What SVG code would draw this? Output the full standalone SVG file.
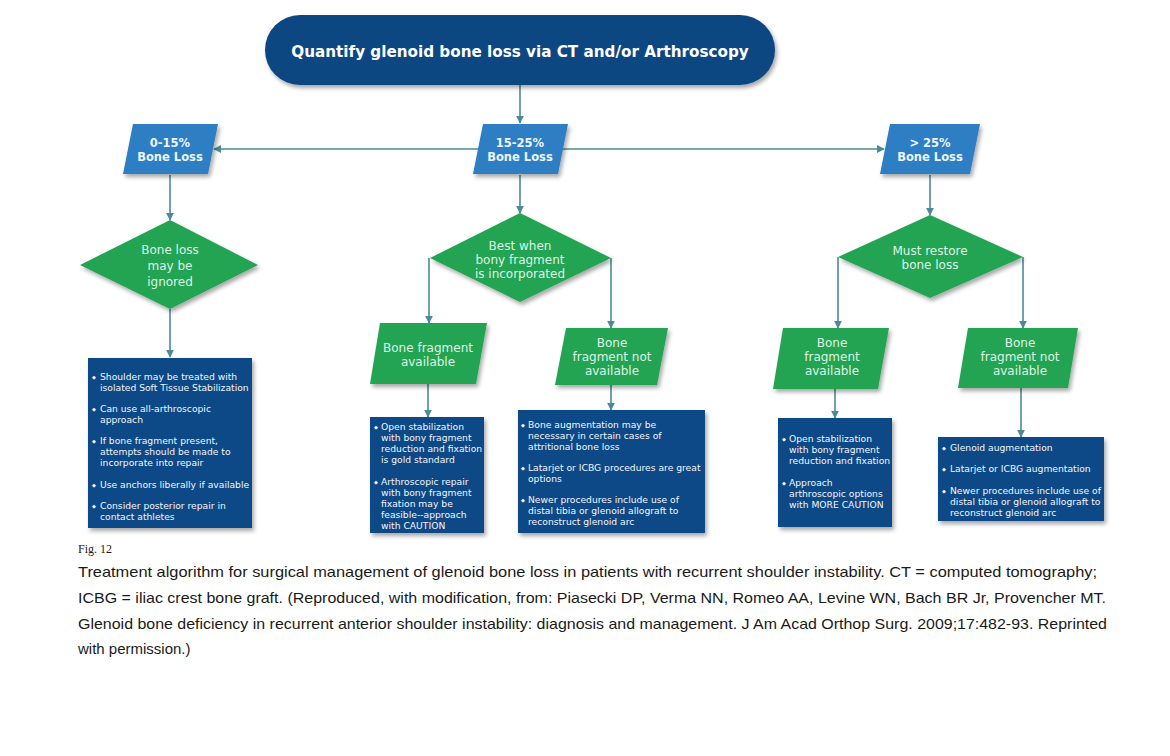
<svg xmlns="http://www.w3.org/2000/svg" width="1170" height="756" viewBox="0 0 1170 756">
<defs>
<filter id="sh" x="-10%" y="-10%" width="130%" height="140%">
<feDropShadow dx="2" dy="3" stdDeviation="2" flood-color="#000" flood-opacity="0.35"/>
</filter>
<marker id="ah" viewBox="0 0 10 10" refX="9" refY="5" markerWidth="8" markerHeight="8" markerUnits="userSpaceOnUse" orient="auto-start-reverse">
<path d="M0,0 L10,5 L0,10 Z" fill="#4d8a97"/>
</marker>
<style>
.con{fill:none;stroke:#4d8a97;stroke-width:1.6}
.top{fill:#0c4681}
.bp{fill:#2d7ec3}
.gr{fill:#22a452}
.bx{fill:#0f4987}
.tt{font-family:"DejaVu Sans",Verdana,sans-serif;font-weight:bold;fill:#fff;text-anchor:middle}
.pt{font-family:"DejaVu Sans",Verdana,sans-serif;font-weight:bold;font-size:11.5px;fill:#eef5fb;text-anchor:middle}
.dt{font-family:"DejaVu Sans",Verdana,sans-serif;font-size:12px;fill:#dff5e6;text-anchor:middle}
.bt{font-family:"DejaVu Sans",Verdana,sans-serif;font-size:9.2px;fill:#f2f5fa}
.bu{font-family:"DejaVu Sans",sans-serif;font-size:5px;fill:#f2f5fa}
.cap{font-family:"Liberation Sans",Arial,sans-serif;font-size:15px;fill:#1a1a1a}
.fig{font-family:"Liberation Serif","Times New Roman",serif;font-size:12px;fill:#1a1a1a}
</style>
</defs>
<rect width="1170" height="756" fill="#fff"/>

<g id="connectors">
<path class="con" d="M520,85 V123" marker-end="url(#ah)"/>
<path class="con" d="M480,149 H214" marker-end="url(#ah)"/>
<path class="con" d="M562,149 H884" marker-end="url(#ah)"/>
<path class="con" d="M170,175 V220" marker-end="url(#ah)"/>
<path class="con" d="M170,309 V357" marker-end="url(#ah)"/>
<path class="con" d="M520,175 V213" marker-end="url(#ah)"/>
<path class="con" d="M429,258 V323" marker-end="url(#ah)"/>
<path class="con" d="M611,258 V328" marker-end="url(#ah)"/>
<path class="con" d="M428,384 V417" marker-end="url(#ah)"/>
<path class="con" d="M611,385 V410" marker-end="url(#ah)"/>
<path class="con" d="M930,175 V215" marker-end="url(#ah)"/>
<path class="con" d="M838,257 V328" marker-end="url(#ah)"/>
<path class="con" d="M1023,257 V328" marker-end="url(#ah)"/>
<path class="con" d="M835,389 V418" marker-end="url(#ah)"/>
<path class="con" d="M1021,388 V437" marker-end="url(#ah)"/>
</g>

<g id="n-top">
<rect class="top" x="265" y="15" width="510" height="70" rx="35" filter="url(#sh)"/>
<text class="tt" x="520" y="57" font-size="15.2px">Quantify glenoid bone loss via CT and/or Arthroscopy</text>
</g>

<g id="n-0-15">
<polygon class="bp" points="133,124 218,124 208,174 123,174" filter="url(#sh)"/>
<text class="pt" x="170" y="147">0-15%</text>
<text class="pt" x="170" y="161">Bone Loss</text>
</g>
<g id="n-15-25">
<polygon class="bp" points="483,124 568,124 558,174 473,174" filter="url(#sh)"/>
<text class="pt" x="520" y="147">15-25%</text>
<text class="pt" x="520" y="161">Bone Loss</text>
</g>
<g id="n-25">
<polygon class="bp" points="890,124 980,124 970,174 880,174" filter="url(#sh)"/>
<text class="pt" x="930" y="147">&gt; 25%</text>
<text class="pt" x="930" y="161">Bone Loss</text>
</g>

<g id="d-ignored">
<polygon class="gr" points="170,220 258,265 170,309 80,265" filter="url(#sh)"/>
<text class="dt" x="170" y="254">Bone loss</text>
<text class="dt" x="170" y="270">may be</text>
<text class="dt" x="170" y="286">ignored</text>
</g>
<g id="d-best">
<polygon class="gr" points="520,213 611,258 520,302 430,258" filter="url(#sh)"/>
<text class="dt" x="520" y="250">Best when</text>
<text class="dt" x="520" y="264">bony fragment</text>
<text class="dt" x="520" y="278">is incorporated</text>
</g>
<g id="d-must">
<polygon class="gr" points="930,215 1023,257 930,298 838,257" filter="url(#sh)"/>
<text class="dt" x="930" y="255">Must restore</text>
<text class="dt" x="930" y="269">bone loss</text>
</g>

<g id="p-avail-mid">
<polygon class="gr" points="380,323 487,323 476,384 370,384" filter="url(#sh)"/>
<text class="dt" x="428" y="352">Bone fragment</text>
<text class="dt" x="428" y="366">available</text>
</g>
<g id="p-notavail-mid">
<polygon class="gr" points="566,328 668,328 657,385 555,385" filter="url(#sh)"/>
<text class="dt" x="612" y="347">Bone</text>
<text class="dt" x="612" y="361">fragment not</text>
<text class="dt" x="612" y="375">available</text>
</g>
<g id="p-avail-right">
<polygon class="gr" points="783,328 889,328 878,389 773,389" filter="url(#sh)"/>
<text class="dt" x="832" y="347">Bone</text>
<text class="dt" x="832" y="361">fragment</text>
<text class="dt" x="832" y="375">available</text>
</g>
<g id="p-notavail-right">
<polygon class="gr" points="968,328 1078,328 1068,388 958,388" filter="url(#sh)"/>
<text class="dt" x="1020" y="347">Bone</text>
<text class="dt" x="1020" y="361">fragment not</text>
<text class="dt" x="1020" y="375">available</text>
</g>

<g id="b-1">
<rect class="bx" x="88" y="358" width="164" height="170" filter="url(#sh)"/>
<text class="bu" x="92" y="379">◆</text>
<text class="bt" x="100" y="380">Shoulder may be treated with</text>
<text class="bt" x="100" y="391">isolated Soft Tissue Stabilization</text>
<text class="bu" x="92" y="411">◆</text>
<text class="bt" x="100" y="412">Can use all-arthroscopic</text>
<text class="bt" x="100" y="423">approach</text>
<text class="bu" x="92" y="443">◆</text>
<text class="bt" x="100" y="444">If bone fragment present,</text>
<text class="bt" x="100" y="455">attempts should be made to</text>
<text class="bt" x="100" y="466">incorporate into repair</text>
<text class="bu" x="92" y="487">◆</text>
<text class="bt" x="100" y="488">Use anchors liberally if available</text>
<text class="bu" x="92" y="508">◆</text>
<text class="bt" x="100" y="509">Consider posterior repair in</text>
<text class="bt" x="100" y="520">contact athletes</text>
</g>

<g id="b-2">
<rect class="bx" x="370" y="417" width="114" height="116" filter="url(#sh)"/>
<text class="bu" x="374" y="429">◆</text>
<text class="bt" x="381" y="430">Open stabilization</text>
<text class="bt" x="381" y="441">with bony fragment</text>
<text class="bt" x="381" y="452">reduction and fixation</text>
<text class="bt" x="381" y="463">is gold standard</text>
<text class="bu" x="374" y="484">◆</text>
<text class="bt" x="381" y="485">Arthroscopic repair</text>
<text class="bt" x="381" y="496">with bony fragment</text>
<text class="bt" x="381" y="507">fixation may be</text>
<text class="bt" x="381" y="518">feasible--approach</text>
<text class="bt" x="381" y="529">with CAUTION</text>
</g>

<g id="b-3">
<rect class="bx" x="518" y="410" width="187" height="123" filter="url(#sh)"/>
<text class="bu" x="521" y="427">◆</text>
<text class="bt" x="528" y="428">Bone augmentation may be</text>
<text class="bt" x="528" y="439">necessary in certain cases of</text>
<text class="bt" x="528" y="450">attritional bone loss</text>
<text class="bu" x="521" y="470">◆</text>
<text class="bt" x="528" y="471">Latarjet or ICBG procedures are great</text>
<text class="bt" x="528" y="482">options</text>
<text class="bu" x="521" y="502">◆</text>
<text class="bt" x="528" y="503">Newer procedures include use of</text>
<text class="bt" x="528" y="514">distal tibia or glenoid allograft to</text>
<text class="bt" x="528" y="525">reconstruct glenoid arc</text>
</g>

<g id="b-4">
<rect class="bx" x="778" y="418" width="114" height="109" filter="url(#sh)"/>
<text class="bu" x="782" y="441">◆</text>
<text class="bt" x="789" y="442">Open stabilization</text>
<text class="bt" x="789" y="453">with bony fragment</text>
<text class="bt" x="789" y="464">reduction and fixation</text>
<text class="bu" x="782" y="485">◆</text>
<text class="bt" x="789" y="486">Approach</text>
<text class="bt" x="789" y="497">arthroscopic options</text>
<text class="bt" x="789" y="508">with MORE CAUTION</text>
</g>

<g id="b-5">
<rect class="bx" x="938" y="437" width="166" height="84" filter="url(#sh)"/>
<text class="bu" x="942" y="450">◆</text>
<text class="bt" x="950" y="451">Glenoid augmentation</text>
<text class="bu" x="942" y="471">◆</text>
<text class="bt" x="950" y="472">Latarjet or ICBG augmentation</text>
<text class="bu" x="942" y="493">◆</text>
<text class="bt" x="950" y="494">Newer procedures include use of</text>
<text class="bt" x="950" y="505">distal tibia or glenoid allograft to</text>
<text class="bt" x="950" y="516">reconstruct glenoid arc</text>
</g>

<g id="caption">
<text class="fig" x="78" y="553">Fig. 12</text>
<text class="cap" x="78" y="577" textLength="1019" lengthAdjust="spacingAndGlyphs">Treatment algorithm for surgical management of glenoid bone loss in patients with recurrent shoulder instability. CT = computed tomography;</text>
<text class="cap" x="78" y="603" textLength="1028" lengthAdjust="spacingAndGlyphs">ICBG = iliac crest bone graft. (Reproduced, with modification, from: Piasecki DP, Verma NN, Romeo AA, Levine WN, Bach BR Jr, Provencher MT.</text>
<text class="cap" x="78" y="629" textLength="1029" lengthAdjust="spacingAndGlyphs">Glenoid bone deficiency in recurrent anterior shoulder instability: diagnosis and management. J Am Acad Orthop Surg. 2009;17:482-93. Reprinted</text>
<text class="cap" x="78" y="654">with permission.)</text>
</g>
</svg>
